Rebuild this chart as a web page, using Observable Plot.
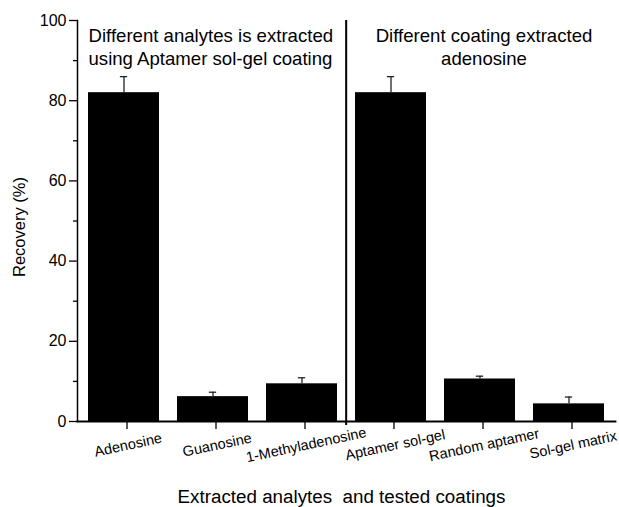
<!DOCTYPE html>
<html>
<head>
<meta charset="utf-8">
<script src="https://cdn.jsdelivr.net/npm/d3@7"></script>
<script src="https://cdn.jsdelivr.net/npm/@observablehq/plot@0.6"></script>
<style>
  html, body { margin: 0; padding: 0; background: #fff; }
  #chart svg { display: block; }
</style>
</head>
<body>
<div id="chart"></div>
<script>
const categories = ["Adenosine", "Guanosine", "1-Methyladenosine", "Aptamer sol-gel", "Random aptamer", "Sol-gel matrix"];
const recovery = [82, 6.2, 9.4, 82, 10.6, 4.4];
const errors = [4, 1.1, 1.5, 4, 0.7, 1.7];
const yTicks = [0, 20, 40, 60, 80, 100];
const yMinorTicks = [10, 30, 50, 70, 90];
const groupTitles = ["Different analytes is extracted\nusing Aptamer sol-gel coating", "Different coating extracted\nadenosine"];
const groupStartCategories = ["Adenosine", "Aptamer sol-gel"];
const xTitle = "Extracted analytes\u00a0 and tested coatings";
const yTitle = "Recovery (%)";

const data = categories.map((c, i) => ({category: c, value: recovery[i], err: errors[i]}));

const W = 619, H = 507, mL = 77, mR = 4, mT = 20, mB = 86;
const step = (W - mL - mR) / categories.length;
const bandwidth = step * 0.8;
const font = "'Liberation Sans', Arial, Helvetica, sans-serif";

const chart = Plot.plot({
  width: W,
  height: H,
  marginLeft: mL,
  marginRight: mR,
  marginTop: mT,
  marginBottom: mB,
  style: {fontFamily: font, color: "#000", background: "#fff"},
  x: {type: "band", domain: categories, paddingInner: 0.2, paddingOuter: 0.1, axis: null},
  y: {domain: [0, 100], axis: null},
  marks: [
    Plot.barY(data, {x: "category", y: "value", fill: "#000"}),
    Plot.ruleX(data, {x: "category", y1: "value", y2: d => d.value + d.err, stroke: "#222", strokeWidth: 1.3}),
    Plot.tickY(data, {x: "category", y: d => d.value + d.err, stroke: "#222", strokeWidth: 1.3, insetLeft: bandwidth / 2 - 4, insetRight: bandwidth / 2 - 4}),
    // divider between the two groups
    Plot.ruleX([groupStartCategories[1]], {x: d => d, dx: -step / 2, stroke: "#000", strokeWidth: 2, insetBottom: -4}),
    // axes
    Plot.axisY({ticks: yTicks, tickSize: 8, tickPadding: 3, fontSize: 16, label: null, stroke: "#000", strokeWidth: 1.3, fill: "#000"}),
    Plot.axisY({ticks: yMinorTicks, tickSize: 4, tickFormat: () => "", label: null, stroke: "#000", strokeWidth: 1.3}),
    Plot.axisX({tickSize: 8, tickPadding: 10, tickRotate: -12, textAnchor: "middle", lineAnchor: "top", dx: 3, fontSize: 14.5, label: null, stroke: "#000", strokeWidth: 1.3, fill: "#000"}),
    Plot.frame({anchor: "left", stroke: "#000", strokeWidth: 1.5}),
    Plot.frame({anchor: "bottom", stroke: "#000", strokeWidth: 1.8}),
    // group titles
    Plot.text([groupTitles[0]], {frameAnchor: "top-left", dx: 11, dy: 5, textAnchor: "start", lineAnchor: "top", lineHeight: 1.25, fontSize: 18.6, fill: "#000"}),
    Plot.text([groupTitles[1]], {x: [categories[4]], frameAnchor: "top", dx: 4, dy: 5, textAnchor: "middle", lineAnchor: "top", lineHeight: 1.25, fontSize: 18.6, fill: "#000"}),
    // axis titles
    Plot.text([xTitle], {frameAnchor: "bottom", dx: -5, dy: 81, lineAnchor: "bottom", fontSize: 18.8, fill: "#000"}),
    Plot.text([yTitle], {frameAnchor: "left", dx: -58, dy: 6, rotate: -90, textAnchor: "middle", lineAnchor: "middle", fontSize: 16.5, fill: "#000"})
  ]
});
document.getElementById("chart").appendChild(chart);
</script>
</body>
</html>
